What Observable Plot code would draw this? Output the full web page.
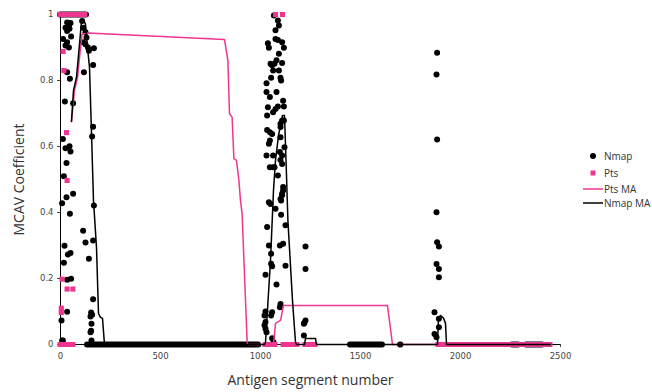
<!DOCTYPE html>
<html><head><meta charset="utf-8">
<script src="https://cdn.jsdelivr.net/npm/d3@7"></script>
<script src="https://cdn.jsdelivr.net/npm/@observablehq/plot@0.6"></script>
<style>
body{margin:0;background:#fff;}
#wrap{position:relative;width:652px;height:392px;overflow:hidden;}
.lg{position:absolute;left:580px;height:14px;line-height:14px;font-family:"Open Sans";font-size:10px;color:#333;white-space:nowrap;display:flex;align-items:center;}
.lg svg{width:24px;height:14px;}
</style></head><body><div id="wrap"></div>
<script>
// ---- data ----
const xTicks = [0, 500, 1000, 1500, 2000, 2500];
const yTicks = [0, 0.2, 0.4, 0.6, 0.8, 1];

// Nmap individual points [segment, value]
const nmapCluster1 = [[33,0.976],[42,0.967],[50,0.974],[25,0.96],[45,0.957],[33,0.95],[13,0.926],[53,0.933],[33,0.916],[42,0.9],[25,0.906],[33,0.825],[47,0.805],[22,0.736],[63,0.731],[12,0.623],[25,0.595],[45,0.601],[50,0.585],[30,0.55],[17,0.51],[30,0.446],[63,0.457],
 [108,0.98],[113,0.96],[125,0.946],[130,0.93],[125,0.91],[137,0.9],[142,0.89],[167,0.898],[113,0.916],[163,0.847],[117,0.825],[163,0.66],[158,0.63],
 [8,0.428],[47,0.396],[20,0.299],[37,0.273],[50,0.277],[17,0.248],[33,0.196],[53,0.199],[33,0.099],[5,0.073],[8,0.012],[12,0.012],[113,0.345],[125,0.309],[163,0.315],[142,0.26],[167,0.421],[163,0.137],[153,0.097],[158,0.09],[150,0.085],[155,0.063],[153,0.042],[150,0.037],[155,0.012]];
const nmapCluster2 = [[1067,0.997],[1087,0.982],[1092,0.967],[1075,0.952],[1075,0.926],[1087,0.923],[1037,0.913],[1042,0.899],[1108,0.916],[1117,0.899],[1092,0.881],[1080,0.861],[1070,0.851],[1058,0.846],[1050,0.851],[1108,0.853],[1063,0.83],[1092,0.83],[1053,0.808],[1100,0.808],[1103,0.8],[1030,0.792],[1080,0.765],[1030,0.765],[1047,0.75],[1113,0.739],[1117,0.721],[1037,0.719],[1033,0.694],[1063,0.704],[1075,0.714],[1087,0.721],[1108,0.679],[1117,0.679],[1100,0.669],[1033,0.65],[1047,0.643],[1058,0.638],[1100,0.659],[1047,0.618],[1100,0.628],[1120,0.598],[1042,0.608],[1097,0.583],[1030,0.573],[1063,0.573],[1108,0.573],[1100,0.559],[1108,0.547],[1047,0.537],[1063,0.537],[1070,0.537],[1087,0.512],[1113,0.477],[1108,0.457],[1100,0.441],
 [1113,0.467],[1108,0.452],[1103,0.436],[1042,0.431],[1050,0.426],[1075,0.411],[1103,0.393],[1125,0.361],[1033,0.356],[1042,0.3],[1097,0.3],[1113,0.305],[1225,0.297],[1053,0.275],[1053,0.245],[1058,0.237],[1125,0.239],[1225,0.229],[1025,0.211],[1080,0.182],[1100,0.123],[1097,0.113],[1025,0.1],[1058,0.098],[1020,0.088],[1053,0.088],[1025,0.068],[1020,0.058],[1025,0.048],[1030,0.037],[1225,0.073],[1220,0.066],[1217,0.063],[1058,0.019],[1217,0.027],[1065,0.007]];
const nmapCluster3 = [[1883,0.884],[1880,0.818],[1883,0.621],[1880,0.401],[1883,0.31],[1892,0.297],[1880,0.244],[1892,0.229],[1892,0.204],[1870,0.098],[1892,0.078],[1892,0.052],[1870,0.032],[1880,0.022]];
// runs of consecutive Nmap points sitting at 0 or 1 [from, to, value]
const nmapRuns = [[0,130,1],[135,990,0],[1450,1610,0],[2260,2290,0],[2330,2410,0],[1700,1702,0]];

// Pts individual points and runs
const ptsPoints = [[13,0.888],[17,0.83],[30,0.642],[33,0.497],[8,0.198],[33,0.168],[62,0.168],[4,0.11],[4,0.097],[1075,1],[1110,1]];
const ptsRuns = [[0,125,1],[0,65,0],[1025,1075,0],[1115,1185,0],[1225,1275,0],[1890,2450,0]];

// moving averages
const ptsMA = [[55,0.676],[70,0.77],[85,0.809],[95,0.87],[108,0.941],[137,0.944],[820,0.924],[837,0.861],[845,0.699],[858,0.689],[867,0.563],[880,0.558],[892,0.497],[900,0.436],[908,0.396],[933,0.012],[935,0],[1065,0],[1075,0.064],[1100,0.073],[1115,0.118],[1635,0.118],[1660,0],[2450,0]];
const nmapMA = [[55,0.676],[65,0.77],[80,0.81],[95,0.91],[105,0.98],[115,0.985],[125,0.97],[135,0.9],[145,0.84],[155,0.64],[165,0.436],[180,0.294],[190,0.094],[200,0.082],[210,0.079],[220,0],[1020,0],[1025,0.006],[1050,0.255],[1065,0.467],[1075,0.558],[1090,0.633],[1110,0.694],[1120,0.694],[1130,0.512],[1137,0.376],[1160,0.133],[1175,0.006],[1180,0],[1220,0],[1225,0.018],[1275,0.018],[1280,0],[1885,0],[1890,0.08],[1900,0.088],[1915,0.08],[1925,0.064],[1930,0],[2450,0]];

const legendItems = ["Nmap","Pts","Pts MA","Nmap MA"];
// ---------------------------------------

const PINK = "#ee3590";
const nmapPoints = nmapCluster1.concat(nmapCluster2, nmapCluster3);

const chart = Plot.plot({
  width: 652, height: 392,
  marginLeft: 60, marginRight: 92, marginTop: 14, marginBottom: 48,
  style: {fontFamily: "DejaVu Sans", fontSize: "8.5px", color: "#444", background: "#fff"},
  x: {domain: [0, 2500]},
  y: {domain: [0, 1]},
  marks: [
    Plot.axisX({ticks: xTicks, tickSize: 3, tickPadding: 5, label: null, tickFormat: d => String(d)}),
    Plot.axisY({ticks: yTicks, tickSize: 3, tickPadding: 4, label: null, tickFormat: d => String(+d.toFixed(2))}),
    Plot.ruleX([0], {stroke: "#000", strokeWidth: 1}),
    Plot.ruleY([0], {stroke: "#000", strokeWidth: 1}),
    // Nmap
    Plot.ruleY(nmapRuns, {x1: d => d[0], x2: d => d[1], y: d => d[2], stroke: "#000", strokeWidth: 6, strokeLinecap: "round"}),
    Plot.dot(nmapPoints, {x: d => d[0], y: d => d[1], r: 3, fill: "#000", stroke: "none"}),
    // Pts
    Plot.ruleY(ptsRuns, {x1: d => d[0], x2: d => d[1], y: d => d[2], stroke: PINK, strokeWidth: 5, strokeLinecap: "square"}),
    Plot.dot(ptsPoints, {x: d => d[0], y: d => d[1], symbol: "square", r: 2.9, fill: PINK, stroke: "none"}),
    // moving averages
    Plot.line(ptsMA, {x: d => d[0], y: d => d[1], stroke: PINK, strokeWidth: 1.5}),
    Plot.line(nmapMA, {x: d => d[0], y: d => d[1], stroke: "#000", strokeWidth: 1.5}),
    // titles
    Plot.text(["Antigen segment number"], {frameAnchor: "bottom", textAnchor: "middle", lineAnchor: "middle", dy: 36, fontSize: 14, fontFamily: "Open Sans", fill: "#333"}),
    Plot.text(["MCAV Coefficient"], {frameAnchor: "left", textAnchor: "middle", lineAnchor: "middle", dx: -41, rotate: -90, fontSize: 14, fontFamily: "Open Sans", fill: "#333"})
  ]
});
const wrap = document.getElementById("wrap");
wrap.appendChild(chart);

const lgY = [156, 173, 189, 203];
legendItems.forEach((name, i) => {
  const div = document.createElement("div");
  div.className = "lg";
  div.style.top = (lgY[i] - 7) + "px";
  let m;
  if (i === 0) m = '<circle cx="13" cy="7" r="3" fill="#000"/>';
  else if (i === 1) m = `<rect x="10.5" y="4.5" width="5" height="5" fill="${PINK}"/>`;
  else if (i === 2) m = `<line x1="3" x2="23" y1="7" y2="7" stroke="${PINK}" stroke-width="1.5"/>`;
  else m = '<line x1="3" x2="23" y1="7" y2="7" stroke="#000" stroke-width="1.5"/>';
  div.innerHTML = `<svg viewBox="0 0 24 14">${m}</svg><span>${name}</span>`;
  wrap.appendChild(div);
});
</script></body></html>
